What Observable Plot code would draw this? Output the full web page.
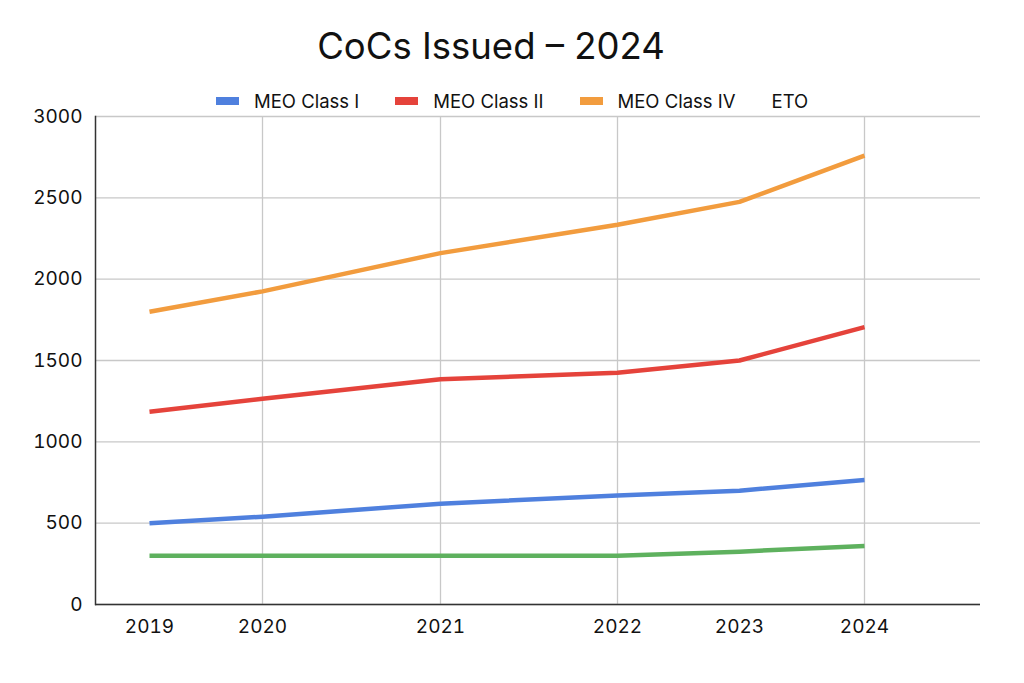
<!DOCTYPE html>
<html>
<head>
<meta charset="utf-8">
<script src="https://cdn.jsdelivr.net/npm/d3@7"></script>
<script src="https://cdn.jsdelivr.net/npm/@observablehq/plot@0.6"></script>
<style>
  html, body { margin: 0; padding: 0; background: #fff; }
  body { position: relative; width: 1024px; height: 683px; overflow: hidden; font-family: Inter, Roboto, "Noto Sans", sans-serif; color: #111; }
  #title { position: absolute; left: 0; top: 0; width: 982px; height: 80px; line-height: 92px; text-align: center; font-size: 36.5px; font-weight: 400; }
  #legend { position: absolute; left: 216px; top: 88px; height: 26px; display: flex; align-items: center; font-size: 18.5px; color: #111; z-index: 2; }
  .item { display: flex; align-items: center; margin-right: 36px; }
  .sw { width: 23px; height: 8px; margin-right: 15px; }
  #chart { position: absolute; left: 0; top: 86px; }
  svg { display: block; }
</style>
</head>
<body>
<div id="title">CoCs Issued – 2024</div>
<div id="legend"></div>
<div id="chart"></div>
<script>
// ---- data ----
const years = [2019, 2020, 2021, 2022, 2023, 2024];
const seriesNames = ["MEO Class I", "MEO Class II", "MEO Class IV", "ETO"];
const meoClassI  = [500, 540, 620, 670, 700, 765];
const meoClassII = [1185, 1265, 1385, 1425, 1500, 1705];
const meoClassIV = [1800, 1925, 2160, 2335, 2475, 2760];
const eto        = [300, 300, 300, 300, 325, 360];
const yTicks = [0, 500, 1000, 1500, 2000, 2500, 3000];
const gridYears = [2020, 2021, 2022, 2024];
const legendSwatch = [true, true, true, false];

// ---- styles / layout ----
const colors = ["#4f80de", "#e5433b", "#f29c3e", "#5eb15e"];
const xRange = [149, 262, 440, 617, 739, 864];

const valuesBySeries = [meoClassI, meoClassII, meoClassIV, eto];
const rows = [];
seriesNames.forEach((s, i) => years.forEach((y, j) => rows.push({series: s, year: y, value: valuesBySeries[i][j]})));

// legend
const legend = document.getElementById("legend");
seriesNames.forEach((s, i) => {
  const it = document.createElement("div");
  it.className = "item";
  if (legendSwatch[i]) {
    const sw = document.createElement("div");
    sw.className = "sw";
    sw.style.background = colors[i];
    it.appendChild(sw);
  }
  const t = document.createElement("span");
  t.textContent = s;
  it.appendChild(t);
  legend.appendChild(it);
});

const chart = Plot.plot({
  width: 1024,
  height: 597,
  marginTop: 30,
  marginBottom: 79,
  marginLeft: 95,
  marginRight: 44,
  style: {fontFamily: "Inter, Roboto, sans-serif", fontSize: "19px", color: "#111", background: "transparent"},
  x: {type: "linear", domain: years, range: xRange, label: null},
  y: {domain: [0, 3000], label: null},
  color: {domain: seriesNames, range: colors},
  marks: [
    Plot.gridY(yTicks, {stroke: "#c8c8c8", strokeOpacity: 1, strokeWidth: 1.3}),
    Plot.gridX(gridYears, {stroke: "#c8c8c8", strokeOpacity: 1, strokeWidth: 1.3}),
    Plot.axisY(yTicks, {tickSize: 0, tickPadding: 13, fontSize: 19, fill: "#111", label: null, tickFormat: d => String(d)}),
    Plot.axisX(years, {tickSize: 0, tickPadding: 15, fontSize: 19, fill: "#111", label: null, tickFormat: d => String(d)}),
    Plot.line(rows, {x: "year", y: "value", z: "series", stroke: "series", strokeWidth: 4.5, strokeLinecap: "butt", strokeLinejoin: "round"}),
    Plot.frame({anchor: "left", stroke: "#333", strokeWidth: 1.5}),
    Plot.ruleY([0], {stroke: "#333", strokeWidth: 1.5})
  ]
});
document.getElementById("chart").appendChild(chart);
</script>
</body>
</html>
